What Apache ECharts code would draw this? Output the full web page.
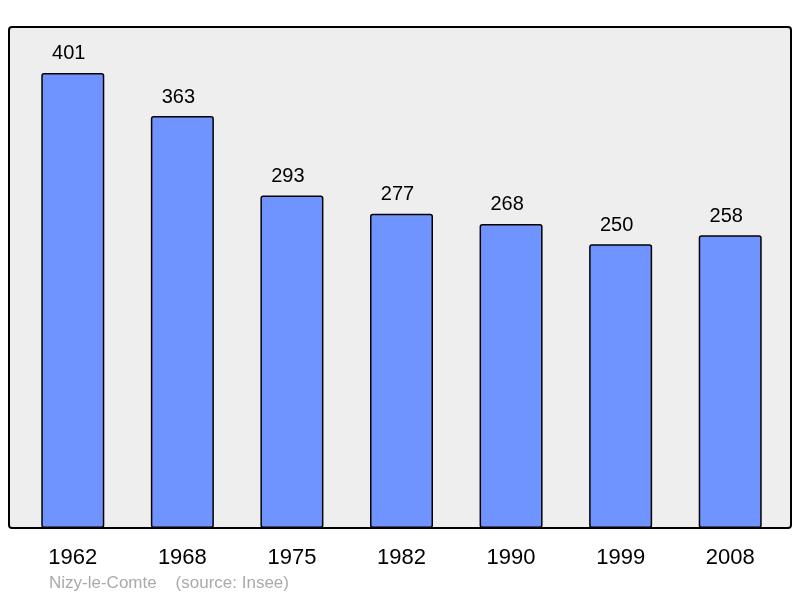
<!DOCTYPE html>
<html><head><meta charset="utf-8">
<script src="https://cdn.jsdelivr.net/npm/echarts@6/dist/echarts.min.js"></script>
<style>html,body{margin:0;padding:0;background:#fff}#c{width:800px;height:598px}</style>
</head><body><div id="c"></div>
<script>
var years = ['1962','1968','1975','1982','1990','1999','2008'];
var population = [401,363,293,277,268,250,258];
var footnote = 'Nizy-le-Comte    (source: Insee)';

var chart = echarts.init(document.getElementById('c'), null, {renderer:'canvas'});
chart.setOption({
  animation:false,
  backgroundColor:'#ffffff',
  graphic:[
    {type:'rect', z:-10, shape:{x:9,y:27,width:782,height:501,r:3},
     style:{fill:'#eeeeee',stroke:'#000000',lineWidth:2}},
    {type:'text', left:49, top:575,
     style:{text:footnote, fill:'#aaaaaa', font:'17px "Liberation Sans", Arial, sans-serif'}}
  ],
  grid:{left:18, right:15, top:27, bottom:70},
  xAxis:{type:'category', data:years,
    axisLine:{show:false}, axisTick:{show:false},
    axisLabel:{fontSize:22, color:'#000', margin:19, fontFamily:'"Liberation Sans", Arial, sans-serif'}},
  yAxis:{type:'value', min:0, max:441.5, show:false, splitLine:{show:false}},
  series:[{type:'bar', data:population, barWidth:63,
    itemStyle:{color:'#7094ff', borderColor:'#000000', borderWidth:1.5, borderRadius:2},
    label:{show:true, position:'top', distance:9, offset:[-4,0], fontSize:20, color:'#000',
      fontFamily:'"Liberation Sans", Arial, sans-serif'}}]
});
</script></body></html>
